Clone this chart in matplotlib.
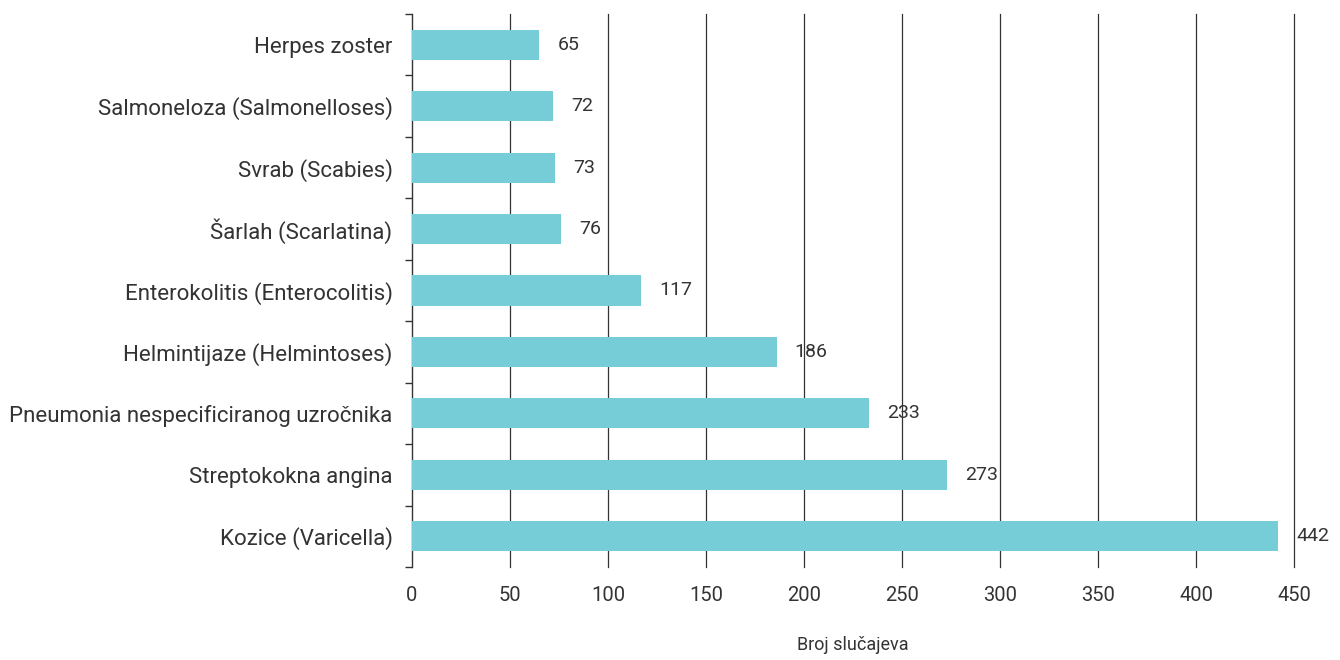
import numpy as np
import matplotlib.pyplot as plt

plt.rcParams['font.family'] = ['Roboto', 'DejaVu Sans']

diseases = ["Herpes zoster", "Salmoneloza (Salmonelloses)", "Svrab (Scabies)",
            "Šarlah (Scarlatina)", "Enterokolitis (Enterocolitis)",
            "Helmintijaze (Helmintoses)", "Pneumonia nespecificiranog uzročnika",
            "Streptokokna angina", "Kozice (Varicella)"]
cases = [65, 72, 73, 76, 117, 186, 233, 273, 442]
xticks = [0, 50, 100, 150, 200, 250, 300, 350, 400, 450]

fig = plt.figure(figsize=(13.4, 6.6), dpi=100)
ax = fig.add_axes([0.3075, 0.1409, 0.6582, 0.8379])

y = np.arange(len(diseases))
ax.barh(y, cases, height=0.49, color="#76cdd8", zorder=3)
ax.set_ylim(len(diseases) - 0.5, -0.5)
ax.set_xlim(0, 450)

for yi, v in zip(y, cases):
    ax.annotate(str(v), (v, yi), xytext=(13, 0), textcoords="offset points",
                va="center", ha="left", fontsize=14, color="#333333")

ax.set_xticks(xticks)
ax.set_xticklabels([str(t) for t in xticks], fontsize=14.5, color="#333333")
ax.tick_params(axis="x", length=0, pad=14)
for t in xticks[1:]:
    ax.axvline(t, color="#333333", linewidth=0.9, zorder=1, clip_on=False)

ax.set_yticks(y)
ax.set_yticklabels(diseases, fontsize=16, color="#333333")
ax.tick_params(axis="y", which="major", length=0, pad=14)
ax.set_yticks(np.arange(-0.5, len(diseases)), minor=True)
ax.tick_params(axis="y", which="minor", length=5, width=1, color="#333333")

for s in ["top", "right", "bottom"]:
    ax.spines[s].set_visible(False)
ax.spines["left"].set_color("#333333")
ax.spines["left"].set_linewidth(1)

ax.set_xlabel("Broj slučajeva", fontsize=13, color="#333333", labelpad=22)

fig.savefig("out.png", dpi=100)
